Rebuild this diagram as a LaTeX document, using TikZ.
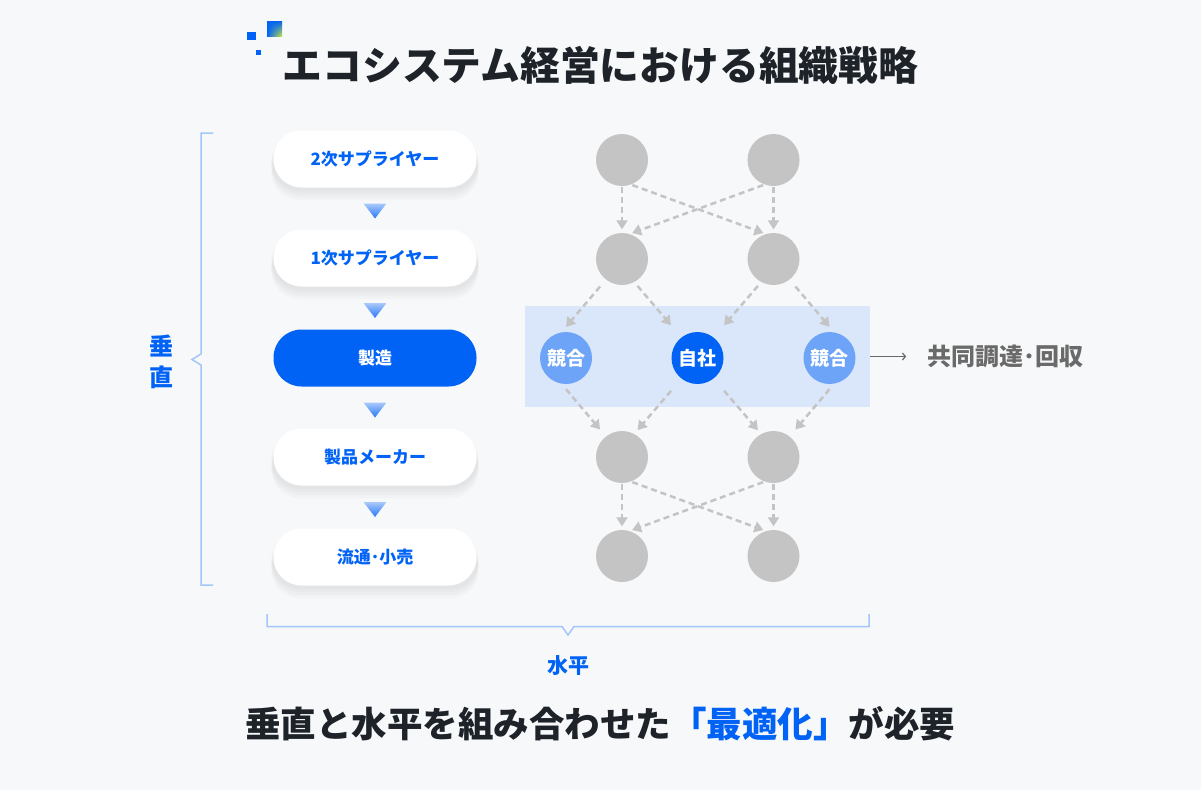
\documentclass[tikz,border=0pt]{standalone}
\usepackage{fontspec}
\setmainfont{Noto Sans CJK JP}
\usepackage{tikz}
\usetikzlibrary{arrows.meta, positioning, calc, shadows, shadings}
\definecolor{cBg}{RGB}{247,248,250}
\definecolor{cInk}{RGB}{30,35,41}
\definecolor{cBlue}{RGB}{0,99,245}
\definecolor{cSky}{RGB}{110,164,248}
\definecolor{cBand}{RGB}{218,230,250}
\definecolor{cDot}{RGB}{196,196,196}
\definecolor{cBrace}{RGB}{164,198,248}
\definecolor{cNote}{RGB}{106,106,106}
\definecolor{cTriTop}{RGB}{170,201,251}
\definecolor{cTriBot}{RGB}{40,120,246}
\definecolor{cLime}{RGB}{200,230,60}

\begin{document}
\begin{tikzpicture}[x=1pt, y=-1pt,
    pill/.style={rounded corners=28pt, minimum width=203pt, minimum height=57pt, inner sep=0pt, font=\fontsize{17}{17}\selectfont\bfseries},
    soft/.style={drop shadow={shadow xshift=0pt, shadow yshift=-#1, shadow scale=1.02, opacity=.018, fill=black}},
    wpill/.style={pill, fill=white, text=cBlue, soft=3pt, soft=6pt, soft=9pt, soft=12pt},
    bpill/.style={pill, fill=cBlue, text=white},
    ball/.style={circle, minimum size=52pt, inner sep=0pt, fill=cDot, text=white, font=\fontsize{19}{19}\selectfont\bfseries},
    flow/.style={draw=cDot, line width=2.5pt, dash pattern=on 6pt off 4pt, -{Triangle[length=9pt, width=11pt]}},
    brk/.style={draw=cBrace, line width=1.5pt}]
  \fill[cBg] (0,0) rectangle (1201,790);
  \useasboundingbox (0,0) rectangle (1201,790);
  \fill[cBlue] (247,32) rectangle (256,40);
  \fill[cBlue] (256,50) rectangle (261,55);
  \shade[upper left=cBlue, upper right=cBlue, lower left=cBlue, lower right=cLime] (267,21) rectangle (282,36);
  \node[text=cInk, font=\fontsize{39.8}{40}\selectfont\bfseries] (title) at (600.5,65) {エコシステム経営における組織戦略};

  \foreach \n/\t/\y in {s2/2次サプライヤー/159, s1/1次サプライヤー/258, mk/製品メーカー/457, rt/流通･小売/557}
    \node[wpill] (\n) at (375,\y) {\t};
  \node[bpill] (mf) at (375,358) {製造};
  \foreach \a/\b in {s2/s1, s1/mf, mf/mk, mk/rt}
    \shade[top color=cTriTop, bottom color=cTriBot] ($(\a.south)!.5!(\b.north)+(0,2.5)$) +(-11.5,-7.5) -- +(11.5,-7.5) -- +(0,7.5) -- cycle;

  \draw[brk] (213,133) -- (201,133) -- (201,354) -- (192,359.5) -- (201,365) -- (201,585) -- (213,585);
  \draw[brk] (267,614) -- (267,626.5) -- (562,626.5) -- (568,635) -- (574,626.5) -- (869,626.5) -- (869,614);
  \node[text=cBlue, align=center, font=\fontsize{24}{31}\selectfont\bfseries] (vert) at (161,362) {垂\\直};
  \node[text=cBlue, font=\fontsize{21}{21}\selectfont\bfseries] (horz) at (568,666) {水平};

  \node[fill=cBand, minimum width=345pt, minimum height=101pt] (band) at (697.5,356.5) {};
  \foreach \n/\x/\y in {t1/622/160, t2/773.5/160, m1/622/259, m2/773.5/259, b1/622/457, b2/773.5/457, e1/622/556, e2/773.5/556}
    \node[ball] (\n) at (\x,\y) {};
  \node[ball, fill=cSky] (c1) at (566,358) {競合};
  \node[ball, fill=cBlue] (self) at (697.5,358) {自社};
  \node[ball, fill=cSky] (c3) at (829.5,358) {競合};
  \foreach \a/\b/\s/\e in {t1.south/m1.north/1pt/3.5pt, t2.south/m2.north/1pt/3.5pt, t1.-70/m2.107/1.5pt/2.6pt, t2.-110/m1.73/1.5pt/2.6pt,
      m1.-128/c1.100/9pt/7pt, m1.-62/self.128/5pt/16pt, m2.-118/self.52/5pt/16pt, m2.-52/c3.80/9pt/7pt,
      c1.-100/b1.128/7pt/9pt, self.-128/b1.62/16pt/5pt, self.-52/b2.118/16pt/5pt, c3.-80/b2.52/7pt/9pt,
      b1.south/e1.north/1pt/3.5pt, b2.south/e2.north/1pt/3.5pt, b1.-70/e2.107/1.5pt/2.6pt, b2.-110/e1.73/1.5pt/2.6pt}
    \draw[flow, shorten <=\s, shorten >=\e] (\a) -- (\b);

  \node[text=cNote, inner sep=2pt, font=\fontsize{24}{24}\selectfont\bfseries, right=55pt of band] (share) {共同調達･回収};
  \draw[cNote, line width=1.2pt, -{Straight Barb[length=3pt, width=7pt]}] (band.east) -- ([xshift=-19pt]share.west);

  \node[text=cInk, font=\fontsize{35.5}{36}\selectfont\bfseries] (msg) at (600,724) {垂直と水平を組み合わせた{\color{cBlue}「最適化」}が必要};
\end{tikzpicture}
\end{document}
